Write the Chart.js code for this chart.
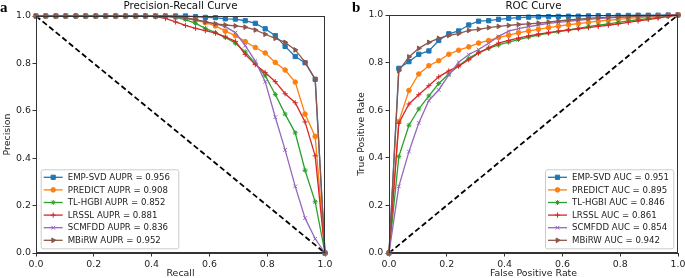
<!DOCTYPE html>
<html>
<head>
<meta charset="utf-8">
<script src="https://cdn.jsdelivr.net/npm/chart.js@4.4.0/dist/chart.umd.min.js"></script>
<style>
  html, body { margin: 0; padding: 0; background: #fff; }
  #wrap { position: relative; width: 685px; height: 278px; overflow: hidden; }
  canvas { position: absolute; top: 0; }
</style>
</head>
<body>
<div id="wrap">
  <canvas id="prChart" width="342" height="278" style="left:0"></canvas>
  <canvas id="rocChart" width="343" height="278" style="left:342px"></canvas>
</div>
<script>
const methods = ['EMP-SVD', 'PREDICT', 'TL-HGBI', 'LRSSL', 'SCMFDD', 'MBiRW'];
const auprScores = ['0.956', '0.908', '0.852', '0.881', '0.836', '0.952'];
const aucScores = ['0.951', '0.895', '0.846', '0.861', '0.854', '0.942'];

// sample points on the x axis (recall / false positive rate)
const gridPoints = [0.000, 0.034, 0.069, 0.103, 0.138, 0.172, 0.207, 0.241, 0.276, 0.310,
  0.345, 0.379, 0.414, 0.448, 0.483, 0.517, 0.552, 0.586, 0.621, 0.655,
  0.690, 0.724, 0.759, 0.793, 0.828, 0.862, 0.897, 0.931, 0.966, 1.000];

// precision values
const prEmpSvd = [1, 1, 1, 1, 1, 1, 1, 1, 1, 1, 1, 1, 1, 1, 1, 1,
  0.997, 0.994, 0.993, 0.988, 0.987, 0.980, 0.969, 0.946, 0.917, 0.872, 0.829, 0.803, 0.733, 0];
const prPredict = [1, 1, 1, 1, 1, 1, 1, 1, 1, 1, 1, 1, 1, 1,
  0.995, 0.990, 0.983, 0.972, 0.958, 0.936, 0.917, 0.892, 0.867, 0.844, 0.804, 0.772, 0.721, 0.586, 0.492, 0];
const prTlHgbi = [1, 1, 1, 1, 1, 1, 1, 1, 1, 1, 1, 1, 1,
  0.998, 0.994, 0.985, 0.969, 0.948, 0.930, 0.910, 0.885, 0.848, 0.800, 0.748, 0.669, 0.586, 0.507, 0.349, 0.216, 0];
const prLrssl = [1, 1, 1, 1, 1, 1, 1, 1, 1, 1, 1, 1,
  0.997, 0.990, 0.975, 0.960, 0.948, 0.938, 0.928, 0.912, 0.893, 0.838, 0.795, 0.762, 0.723, 0.672, 0.634, 0.553, 0.410, 0];
const prScmfdd = [1, 1, 1, 1, 1, 1, 1, 1, 1, 1, 1, 1, 1, 1,
  0.995, 0.990, 0.983, 0.976, 0.967, 0.955, 0.930, 0.875, 0.810, 0.723, 0.573, 0.435, 0.281, 0.147, 0.060, 0];
const prMbirw = [1, 1, 1, 1, 1, 1, 1, 1, 1, 1, 1, 1, 1, 1,
  0.998, 0.993, 0.985, 0.975, 0.967, 0.962, 0.958, 0.953, 0.941, 0.923, 0.906, 0.889, 0.857, 0.805, 0.733, 0];

// true positive rate values
const rocEmpSvd = [0, 0.776, 0.804, 0.835, 0.849, 0.893, 0.921, 0.933, 0.958, 0.974, 0.976, 0.982, 0.986, 0.989, 0.991,
  0.992, 0.993, 0.994, 0.995, 0.995, 0.996, 0.997, 0.997, 0.998, 0.998, 0.999, 0.999, 0.999, 1, 1];
const rocPredict = [0, 0.552, 0.683, 0.752, 0.787, 0.808, 0.835, 0.852, 0.866, 0.882, 0.893, 0.905, 0.915, 0.925, 0.933,
  0.940, 0.947, 0.953, 0.959, 0.964, 0.969, 0.974, 0.978, 0.982, 0.986, 0.989, 0.992, 0.995, 0.998, 1];
const rocTlHgbi = [0, 0.405, 0.537, 0.605, 0.660, 0.712, 0.752, 0.787, 0.818, 0.842, 0.860, 0.874, 0.886, 0.897, 0.907,
  0.916, 0.924, 0.930, 0.937, 0.944, 0.951, 0.957, 0.963, 0.969, 0.975, 0.980, 0.985, 0.990, 0.995, 1];
const rocLrssl = [0, 0.545, 0.626, 0.665, 0.703, 0.740, 0.765, 0.785, 0.812, 0.840, 0.862, 0.882, 0.893, 0.903, 0.912,
  0.920, 0.926, 0.932, 0.937, 0.942, 0.947, 0.952, 0.957, 0.963, 0.969, 0.975, 0.981, 0.987, 0.994, 1];
const rocScmfdd = [0, 0.280, 0.426, 0.546, 0.641, 0.685, 0.748, 0.802, 0.834, 0.855, 0.881, 0.910, 0.932, 0.943, 0.951,
  0.958, 0.965, 0.969, 0.973, 0.978, 0.982, 0.985, 0.988, 0.990, 0.992, 0.994, 0.996, 0.997, 0.999, 1];
const rocMbirw = [0, 0.766, 0.824, 0.860, 0.885, 0.902, 0.914, 0.922, 0.935, 0.940, 0.947, 0.952, 0.956, 0.960, 0.963,
  0.966, 0.970, 0.975, 0.979, 0.983, 0.986, 0.989, 0.990, 0.992, 0.993, 0.995, 0.996, 0.997, 0.998, 1];

// dashed reference lines
const chanceX = [0, 1];
const prChanceY = [1, 0];
const rocChanceY = [0, 1];

const axisTicks = [0, 0.2, 0.4, 0.6, 0.8, 1.0];

// matplotlib tab10 colours and markers
const colors = ['#1f77b4', '#ff7f0e', '#2ca02c', '#d62728', '#9467bd', '#8c564b'];
const markers = [
  {style: 'rect', radius: 3.0, rotation: 0},
  {style: 'circle', radius: 2.3, rotation: 0},
  {style: 'star', radius: 2.5, rotation: 0},
  {style: 'cross', radius: 2.6, rotation: 0},
  {style: 'crossRot', radius: 2.6, rotation: 0},
  {style: 'triangle', radius: 2.7, rotation: 90}
];

const FONT = 'DejaVu Sans';
Chart.defaults.font.family = FONT;
Chart.defaults.font.size = 9.4;
Chart.defaults.color = '#222';

function toPoints(xs, ys) {
  return ys.map((y, i) => ({x: xs[i], y: y}));
}

function buildDatasets(seriesList, scores, metric, chanceY) {
  const sets = seriesList.map((ys, i) => ({
    label: methods[i] + ' ' + metric + ' = ' + scores[i],
    data: toPoints(gridPoints, ys),
    borderColor: colors[i],
    backgroundColor: colors[i],
    pointBackgroundColor: colors[i],
    pointBorderColor: colors[i],
    borderWidth: 1.3,
    pointStyle: markers[i].style,
    pointRadius: markers[i].radius,
    pointRotation: markers[i].rotation,
    pointBorderWidth: 1,
    order: 6 - i,
    clip: 6,
    showInLegend: true
  }));
  sets.push({
    label: 'chance',
    data: toPoints(chanceX, chanceY),
    borderColor: '#000',
    borderWidth: 1.8,
    borderDash: [5.5, 3],
    pointRadius: 0,
    order: 10,
    showInLegend: false
  });
  return sets;
}

// frame, panel letter, title and an inside legend like matplotlib
const panelDecor = {
  id: 'panelDecor',
  afterDraw(chart, args, opts) {
    const ctx = chart.ctx;
    const a = chart.chartArea;
    ctx.save();
    ctx.strokeStyle = '#333';
    ctx.lineWidth = 1;
    ctx.strokeRect(Math.round(a.left) + 0.5, Math.round(a.top) + 0.5,
      Math.round(a.right - a.left) - 1, Math.round(a.bottom - a.top) - 1);

    ctx.fillStyle = '#000';
    ctx.font = 'bold 15px "Liberation Serif"';
    ctx.textAlign = 'left';
    ctx.textBaseline = 'alphabetic';
    ctx.fillText(opts.letter, opts.letterX, 12);

    ctx.fillStyle = '#111';
    ctx.font = '10.3px "' + FONT + '"';
    ctx.textAlign = 'center';
    ctx.textBaseline = 'middle';
    ctx.fillText(opts.title, (a.left + a.right) / 2, 6.5);

    // legend box
    const items = chart.data.datasets.filter(d => d.showInLegend);
    const boxW = opts.boxWidth, boxH = 79;
    const bx = opts.corner === 'left' ? a.left + 4.7 : a.right - 4.7 - boxW;
    const by = a.bottom - 4.7 - boxH;
    ctx.fillStyle = 'rgba(255,255,255,0.85)';
    ctx.strokeStyle = '#cccccc';
    ctx.lineWidth = 1;
    ctx.beginPath();
    ctx.roundRect(bx + 0.5, by + 0.5, boxW, boxH, 2);
    ctx.fill();
    ctx.stroke();

    ctx.font = '8.6px "' + FONT + '"';
    ctx.textAlign = 'left';
    ctx.textBaseline = 'middle';
    items.forEach((d, i) => {
      const y = by + 8 + i * 12.6;
      const x1 = bx + 3, x2 = bx + 22;
      ctx.strokeStyle = d.borderColor;
      ctx.lineWidth = d.borderWidth;
      ctx.beginPath();
      ctx.moveTo(x1, y);
      ctx.lineTo(x2, y);
      ctx.stroke();
      ctx.fillStyle = d.borderColor;
      ctx.lineWidth = 1;
      Chart.helpers.drawPoint(ctx, {
        pointStyle: d.pointStyle, radius: d.pointRadius,
        rotation: d.pointRotation, borderWidth: 1
      }, (x1 + x2) / 2, y);
      ctx.fillStyle = '#222';
      ctx.fillText(d.label, bx + 27, y + 0.5);
    });
    ctx.restore();
  }
};

function makeChart(id, datasets, cfg) {
  return new Chart(document.getElementById(id), {
    type: 'line',
    data: {datasets: datasets},
    plugins: [panelDecor],
    options: {
      responsive: false,
      animation: false,
      devicePixelRatio: 1,
      layout: {padding: {top: cfg.top, right: cfg.right, left: 0, bottom: 0}},
      plugins: {
        legend: {display: false},
        title: {display: false},
        tooltip: {enabled: false},
        panelDecor: {letter: cfg.letter, letterX: cfg.letterX, title: cfg.title,
          corner: cfg.corner, boxWidth: cfg.boxWidth}
      },
      scales: {
        x: {
          type: 'linear', min: 0, max: 1,
          afterBuildTicks: s => { s.ticks = axisTicks.map(v => ({value: v})); },
          afterFit: s => { s.height = 25; s.paddingLeft = 0; s.paddingRight = 0; },
          grid: {drawOnChartArea: false, drawTicks: true, tickLength: 3.5, tickColor: '#333', tickWidth: 1},
          border: {display: true, color: '#333', width: 1},
          ticks: {padding: 2, maxRotation: 0, autoSkip: false, callback: v => v.toFixed(1)},
          title: {display: true, text: cfg.xTitle, padding: {top: 0, bottom: -1}}
        },
        y: {
          type: 'linear', min: 0, max: 1,
          afterBuildTicks: s => { s.ticks = axisTicks.map(v => ({value: v})); },
          afterFit: s => { s.width = cfg.yWidth; s.paddingTop = 0; s.paddingBottom = 0; },
          grid: {drawOnChartArea: false, drawTicks: true, tickLength: 3.5, tickColor: '#333', tickWidth: 1},
          border: {display: true, color: '#333', width: 1},
          ticks: {padding: cfg.yTickPad, autoSkip: false, callback: v => v.toFixed(1)},
          title: {display: true, text: cfg.yTitle, padding: {top: cfg.yTitlePad, bottom: 0}}
        }
      }
    }
  });
}

makeChart('prChart',
  buildDatasets([prEmpSvd, prPredict, prTlHgbi, prLrssl, prScmfdd, prMbirw], auprScores, 'AUPR', prChanceY),
  {top: 16, right: 17, yWidth: 36, yTickPad: 1.5, yTitlePad: 2.4, letter: 'a', letterX: 0,
   title: 'Precision-Recall Curve', xTitle: 'Recall', yTitle: 'Precision', corner: 'left', boxWidth: 137.6});

makeChart('rocChart',
  buildDatasets([rocEmpSvd, rocPredict, rocTlHgbi, rocLrssl, rocScmfdd, rocMbirw], aucScores, 'AUC', rocChanceY),
  {top: 15, right: 7, yWidth: 47, yTickPad: 2.2, yTitlePad: 14, letter: 'b', letterX: 10,
   title: 'ROC Curve', xTitle: 'False Positive Rate', yTitle: 'True Positive Rate', corner: 'right', boxWidth: 128.3});
</script>
</body>
</html>
